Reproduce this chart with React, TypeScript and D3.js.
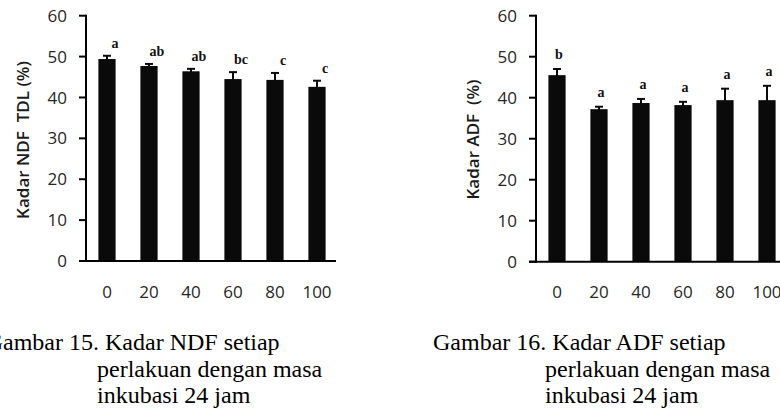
import React from "react";
import * as d3 from "d3";

const categories = ["0", "20", "40", "60", "80", "100"];
const ndfMeans = [49.4, 47.7, 46.4, 44.5, 44.3, 42.6];
const ndfErrors = [0.8, 0.5, 0.6, 1.7, 1.7, 1.5];
const ndfLetters = ["a", "ab", "ab", "bc", "c", "c"];
const adfMeans = [45.5, 37.2, 38.7, 38.2, 39.4, 39.4];
const adfErrors = [1.5, 0.6, 1.0, 0.8, 2.8, 3.5];
const adfLetters = ["b", "a", "a", "a", "a", "a"];
const yTicks = [0, 10, 20, 30, 40, 50, 60];
const ndfYLabel = "Kadar NDF  TDL (%)";
const adfYLabel = "Kadar ADF  (%)";
const ndfCaption = ["Gambar 15. Kadar NDF setiap", "perlakuan dengan masa", "inkubasi 24 jam"];
const adfCaption = ["Gambar 16. Kadar ADF setiap", "perlakuan dengan masa", "inkubasi 24  jam"];

type PanelProps = {
  axisX: number;
  zeroY: number;
  topY: number;
  xEnd: number;
  axisEnd: number;
  xLabelY: number;
  yLabel: string;
  yLabelX: number;
  yLabelY: number;
  means: number[];
  errors: number[];
  letters: string[];
  letterDx: number;
  letterGap: number;
};

const tickFont = "'Open Sans', sans-serif";
const serif = "'Liberation Serif', 'Times New Roman', serif";

function Panel(p: PanelProps) {
  const x = d3
    .scaleBand<string>()
    .domain(categories)
    .range([p.axisX, p.xEnd])
    .paddingInner(0.59)
    .paddingOuter(0.295);
  const y = d3.scaleLinear().domain([0, 60]).range([p.zeroY, p.topY]);
  const bw = x.bandwidth();
  const capW = 8;
  return (
    <g>
      {categories.map((c, i) => (
        <rect
          key={"b" + c}
          x={x(c)!}
          y={y(p.means[i])}
          width={bw}
          height={y(0) - y(p.means[i])}
          fill="#0a0a0a"
        />
      ))}
      {categories.map((c, i) => {
        const cx = x(c)! + bw / 2;
        const top = y(p.means[i] + p.errors[i]);
        const bot = y(p.means[i] - p.errors[i]);
        return (
          <g key={"e" + c} stroke="#0a0a0a" strokeWidth={2}>
            <line x1={cx} x2={cx} y1={top} y2={bot} />
            <line x1={cx - capW / 2} x2={cx + capW / 2} y1={top} y2={top} />
          </g>
        );
      })}
      {categories.map((c, i) => (
        <text
          key={"l" + c}
          x={x(c)! + bw / 2 + p.letterDx}
          y={y(p.means[i] + p.errors[i]) - p.letterGap}
          textAnchor="middle"
          fontFamily={serif}
          fontWeight="bold"
          fontSize={14}
          fill="#111"
        >
          {p.letters[i]}
        </text>
      ))}
      <line x1={p.axisX} x2={p.axisX} y1={p.topY - 1} y2={p.zeroY + 1} stroke="#000" strokeWidth={2} />
      <line x1={p.axisX - 7} x2={p.axisEnd} y1={p.zeroY} y2={p.zeroY} stroke="#000" strokeWidth={2} />
      {yTicks.map((t) => (
        <g key={"t" + t}>
          <line x1={p.axisX - 7} x2={p.axisX} y1={y(t)} y2={y(t)} stroke="#000" strokeWidth={2} />
          <text
            x={p.axisX - 19}
            y={y(t)}
            dy="0.36em"
            textAnchor="end"
            fontFamily={tickFont}
            fontSize={17}
            fill="#262626"
          >
            {t}
          </text>
        </g>
      ))}
      {categories.map((c) => (
        <text
          key={"x" + c}
          x={x(c)! + bw / 2}
          y={p.xLabelY}
          textAnchor="middle"
          fontFamily={tickFont}
          fontSize={17}
          fill="#262626"
        >
          {c}
        </text>
      ))}
      <text
        transform={`translate(${p.yLabelX},${p.yLabelY}) rotate(-90)`}
        textAnchor="middle"
        dy="0.35em"
        fontFamily={tickFont}
        fontWeight={600}
        fontSize={17}
        fill="#1a1a1a"
        style={{ whiteSpace: "pre" }}
      >
        {p.yLabel}
      </text>
    </g>
  );
}

function Caption({ lines, x1, x2 }: { lines: string[]; x1: number; x2: number }) {
  const baselines = [350, 377, 403];
  return (
    <g fontFamily={serif} fontSize={24} fill="#000" style={{ whiteSpace: "pre" }}>
      {lines.map((l, i) => (
        <text key={i} x={i === 0 ? x1 : x2} y={baselines[i]}>
          {l}
        </text>
      ))}
    </g>
  );
}

export default function App() {
  return (
    <svg
      width={780}
      height={414}
      viewBox="0 0 780 414"
      style={{ position: "absolute", left: 0, top: 0, background: "#fff" }}
    >
      <rect x={0} y={0} width={780} height={414} fill="#fff" />
      <Panel
        axisX={86}
        zeroY={261}
        topY={15.7}
        xEnd={338}
        axisEnd={336}
        xLabelY={298}
        yLabel={ndfYLabel}
        yLabelX={23.5}
        yLabelY={140}
        means={ndfMeans}
        errors={ndfErrors}
        letters={ndfLetters}
        letterDx={8}
        letterGap={8}
      />
      <Panel
        axisX={536}
        zeroY={261.7}
        topY={15.7}
        xEnd={788}
        axisEnd={790}
        xLabelY={298}
        yLabel={adfYLabel}
        yLabelX={473.5}
        yLabelY={139.5}
        means={adfMeans}
        errors={adfErrors}
        letters={adfLetters}
        letterDx={2}
        letterGap={10}
      />
      <Caption lines={ndfCaption} x1={-14.3} x2={97} />
      <Caption lines={adfCaption} x1={433} x2={545} />
    </svg>
  );
}
